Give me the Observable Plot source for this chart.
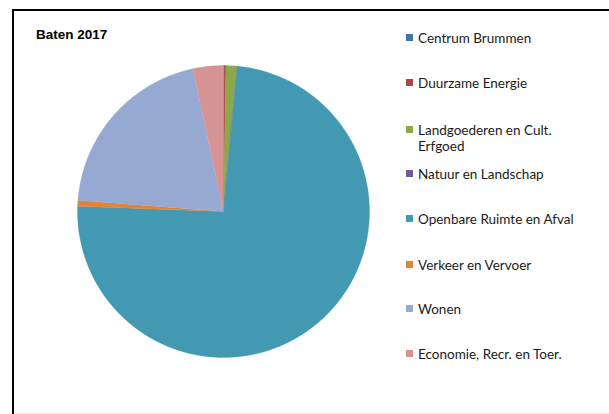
<!DOCTYPE html>
<html>
<head>
<meta charset="utf-8">
<script src="https://cdn.jsdelivr.net/npm/d3@7"></script>
<script src="https://cdn.jsdelivr.net/npm/@observablehq/plot@0.6"></script>
<style>
  html, body { margin: 0; padding: 0; background: #fff; }
  #wrap { position: relative; width: 609px; height: 414px; overflow: hidden; background: #fff; }
  #wrap svg { position: absolute; left: 0; top: 0; }
  #frameTop { position: absolute; left: 12px; top: 9px; width: 600px; height: 2px; background: #000; }
  #frameLeft { position: absolute; left: 12px; top: 9px; width: 2px; height: 410px; background: #000; }
  #frameBottom { position: absolute; left: 14px; top: 413px; width: 600px; height: 1px; background: #e6e6e6; }
  #title { position: absolute; left: 36px; top: 27px; font: bold 13.5px "Liberation Sans", Arial, sans-serif; color: #000; }
  .leg { position: absolute; left: 406px; font: 13.5px Lato, "Open Sans", sans-serif; color: #1a1a1a; line-height: 16px; }
  .leg .sw { position: absolute; left: 0; top: 4px; width: 7px; height: 7px; }
  .leg .tx { position: absolute; left: 12px; top: 0; white-space: nowrap; }
</style>
</head>
<body>
<div id="wrap">
  <div id="frameTop"></div>
  <div id="frameLeft"></div>
  <div id="frameBottom"></div>
  <div id="title">Baten 2017</div>
</div>
<script>
const title = "Baten 2017";
const categories = [
  "Centrum Brummen",
  "Duurzame Energie",
  "Landgoederen en Cult.\nErfgoed",
  "Natuur en Landschap",
  "Openbare Ruimte en Afval",
  "Verkeer en Vervoer",
  "Wonen",
  "Economie, Recr. en Toer."
];
const values = [0.05, 0.22, 1.22, 0.03, 74.0, 0.64, 20.4, 3.36];
const colors = ["#4373AE", "#AE4745", "#8CA84D", "#74599A", "#4399B1", "#DF8439", "#95A9D2", "#D59393"];

const data = categories.map((c, i) => ({category: c, value: values[i]}));
const arcs = d3.pie().sort(null).value(d => d.value)(data);
const pts = [];
for (const a of arcs) {
  const c = a.data.category;
  pts.push({category: c, x: 0, y: 0});
  const n = Math.max(2, Math.ceil((a.endAngle - a.startAngle) / 0.005));
  for (let k = 0; k <= n; k++) {
    const t = a.startAngle + (a.endAngle - a.startAngle) * k / n;
    pts.push({category: c, x: Math.sin(t), y: Math.cos(t)});
  }
}

const chart = Plot.plot({
  width: 609,
  height: 414,
  margin: 0,
  x: {domain: [-1, 1], range: [77, 369], axis: null},
  y: {domain: [-1, 1], range: [357, 65], axis: null},
  color: {domain: categories, range: colors},
  marks: [
    Plot.line(pts, {x: "x", y: "y", z: "category", fill: "category", stroke: "category", strokeWidth: 0.3, curve: "linear-closed"})
  ]
});
const wrap = document.getElementById("wrap");
wrap.insertBefore(chart, wrap.firstChild);

// legend
const legendTop = [30, 75, 122, 166, 211, 257, 301, 346];
categories.forEach((c, i) => {
  const d = document.createElement("div");
  d.className = "leg";
  d.style.top = legendTop[i] + "px";
  const sw = document.createElement("div");
  sw.className = "sw";
  sw.style.background = colors[i];
  const tx = document.createElement("div");
  tx.className = "tx";
  tx.innerHTML = c.split("\n").join("<br>");
  d.appendChild(sw);
  d.appendChild(tx);
  wrap.appendChild(d);
});
</script>
</body>
</html>
